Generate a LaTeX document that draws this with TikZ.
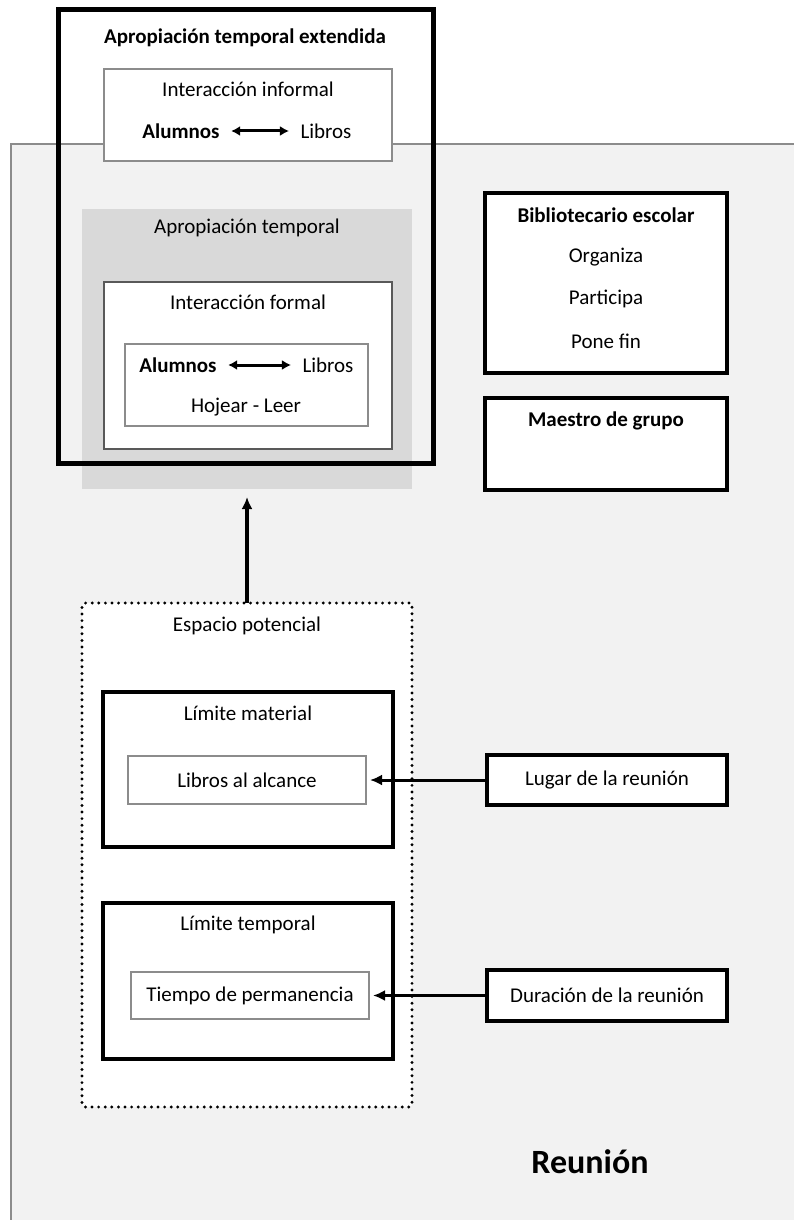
\documentclass[tikz,border=0pt]{standalone}
\usepackage{fontspec}
\setmainfont{Carlito}
\usetikzlibrary{arrows.meta,positioning}

\definecolor{reunionbg}{HTML}{F2F2F2}
\definecolor{aprobg}{HTML}{D9D9D9}
\definecolor{linegray}{HTML}{8C8C8C}
\definecolor{darkline}{HTML}{595959}

\begin{document}
\begin{tikzpicture}[x=1pt, y=-1pt,
	font=\fontsize{21}{25}\selectfont,
	bold/.style={font=\fontsize{21}{25}\selectfont\bfseries},
	thickbox/.style={draw, line width=4pt, fill=white, inner sep=0pt, outer sep=0pt},
	thinbox/.style={draw=linegray, line width=1.3pt, fill=white, inner sep=0pt, outer sep=0pt},
	dotbox/.style={draw, fill=white, line width=3.2pt, line cap=round, dash pattern=on 0pt off 6.6pt, rounded corners=3pt, inner sep=0pt, outer sep=0pt},
	arr/.style={line width=3pt, -{Latex[length=12pt,width=11pt]}},
	biarr/.style={line width=3pt, {Latex[length=9pt,width=10pt]}-{Latex[length=9pt,width=10pt]}}]

\useasboundingbox (0,0) rectangle (793,1220);

%% Reunion (fondo)
\node[fill=reunionbg, inner sep=0pt, outer sep=0pt,
	anchor=north west, minimum width=800, minimum height=1100] (reunion) at (11,144) {};
\draw[linegray, line width=1.3pt] (reunion.south west) -- (reunion.north west) -- (reunion.north east);
\node[font=\fontsize{34}{38}\selectfont\bfseries] (reuniontxt) at (590,1162) {Reunión};
%%%%%%%%%%%%%%%%

%% Apropiacion temporal (gris)
\node[fill=aprobg, inner sep=0pt, outer sep=0pt, minimum width=330, minimum height=280] (apro) at (247,349) {};
\node (aprotxt) at (247,228) {Apropiación temporal};

%% Apropiacion temporal extendida
\node[draw, line width=5pt, inner sep=0pt, outer sep=0pt, minimum width=375, minimum height=454] (aproext) at (245.5,236.5) {};
\node[bold] (aproexttxt) at (245,38) {Apropiación temporal extendida};

%% Interaccion informal
\node[thinbox, minimum width=288, minimum height=92] (informal) at (248,115) {};
\node (informaltxt) at (248,89) {Interacción informal};
\node[bold] (alumnosA) at (181,131) {Alumnos};
\node (librosA) at (326,131) {Libros};
\draw[biarr, shorten <=8pt, shorten >=8pt] (alumnosA) -- (librosA);

%% Interaccion formal
\node[thinbox, draw=darkline, minimum width=288, minimum height=167] (formal) at (248,365.5) {};
\node (formaltxt) at (248,302) {Interacción formal};
\node[thinbox, minimum width=243, minimum height=82] (hojear) at (246.5,385) {};
\node[bold] (alumnosB) at (178,365) {Alumnos};
\node (librosB) at (328,365) {Libros};
\draw[biarr, shorten <=8pt, shorten >=8pt] (alumnosB) -- (librosB);
\node (hojeartxt) at (246,407) {Hojear - Leer};
%%%%%%%%%%%%%%%%

%% Actores
\node[thickbox, minimum width=242, minimum height=180] (biblio) at (606,283) {};
\node[bold] (bibliotxt) at (606,215) {Bibliotecario escolar};
\node (organiza) at (606,257) {Organiza};
\node (participa) at (606,299) {Participa};
\node (ponefin) at (606,341) {Pone fin};

\node[thickbox, minimum width=242, minimum height=92] (maestro) at (606,444) {};
\node[bold] (maestrotxt) at (606,421) {Maestro de grupo};
%%%%%%%%%%%%%%%%

%% Espacio potencial
\node[dotbox, minimum width=330, minimum height=504] (espacio) at (247,855) {};
\node (espaciotxt) at (247,626) {Espacio potencial};

\node[thickbox, minimum width=290, minimum height=155] (material) at (248,769.5) {};
\node (materialtxt) at (248,713) {Límite material};
\node[thinbox, minimum width=238, minimum height=48] (libros) at (247,780) {Libros al alcance};

\node[thickbox, minimum width=290, minimum height=156] (temporal) at (248,981) {};
\node (temporaltxt) at (248,925) {Límite temporal};
\node[thinbox, minimum width=238, minimum height=47] (tiempo) at (250,995.5) {Tiempo de permanencia};

%% Condiciones de la reunion
\node[thickbox, minimum width=240, minimum height=50] (lugar) at (607,780) {Lugar de la reunión};
\node[thickbox, minimum width=240, minimum height=51] (duracion) at (607,995.5) {Duración de la reunión};

\draw[arr, shorten >=4pt] (lugar.west) -- (libros.east);
\draw[arr, shorten >=4pt] (duracion.west) -- (tiempo.east);
\draw[arr, line width=3.5pt, shorten >=8pt] (espacio.north) -- (apro.south);

\end{tikzpicture}
\end{document}
